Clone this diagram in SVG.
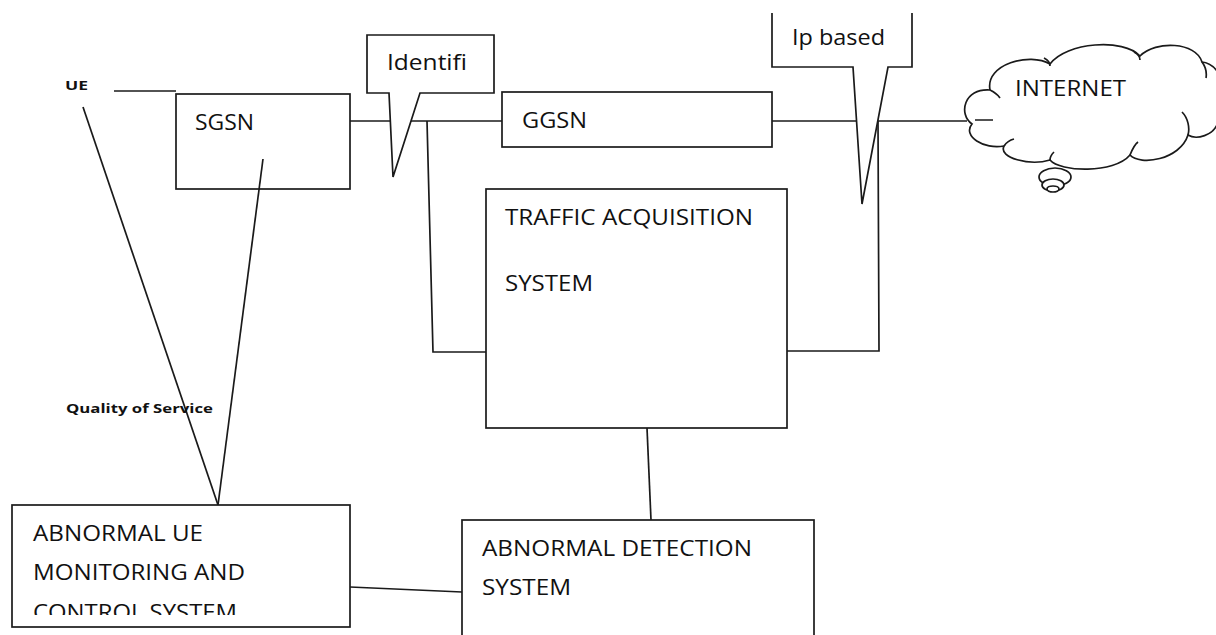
<svg xmlns="http://www.w3.org/2000/svg" width="1216" height="635" viewBox="0 0 1216 635">
<style>
.box{fill:#fff;stroke:#1a1a1a;stroke-width:1.7}
.ln{fill:none;stroke:#1a1a1a;stroke-width:1.7}
.t{font-family:"Open Sans","Noto Sans","Liberation Sans",sans-serif;font-size:22px;fill:#111}
.b{font-family:"Open Sans","Noto Sans","Liberation Sans",sans-serif;font-size:13px;font-weight:bold;fill:#111}
</style>
<defs>
<clipPath id="clipAUE"><rect x="12" y="505" width="340" height="110"/></clipPath>
</defs>
<g id="ue"><text class="b" x="65" y="90" textLength="23" lengthAdjust="spacingAndGlyphs">UE</text></g>
<g id="sgsn">
<rect class="box" x="176" y="94" width="174" height="95"/>
<text class="t" x="195" y="130" textLength="59" lengthAdjust="spacingAndGlyphs">SGSN</text>
</g>
<g id="connectors">
<polyline class="ln" points="114,91 176,91"/>
<line class="ln" x1="350" y1="121" x2="502" y2="121"/>
<line class="ln" x1="772" y1="121" x2="967" y2="121"/>
<polyline class="ln" points="427,121 433,352 486,352"/>
<polyline class="ln" points="787,351 879,351 878,121"/>
<line class="ln" x1="83" y1="107" x2="218" y2="505"/>
<line class="ln" x1="263" y1="159" x2="218" y2="505"/>
<line class="ln" x1="350" y1="587" x2="462" y2="592"/>
<line class="ln" x1="647" y1="428" x2="651" y2="520"/>
</g>
<g id="identifi">
<path class="box" d="M367,93 L367,35 L494,35 L494,93 L420,93 L393,177 L389,93 Z"/>
<text class="t" x="387" y="70" textLength="80" lengthAdjust="spacingAndGlyphs">Identifi</text>
</g>
<g id="ggsn">
<rect class="box" x="502" y="92" width="270" height="55"/>
<text class="t" x="522" y="128" textLength="65" lengthAdjust="spacingAndGlyphs">GGSN</text>
</g>
<g id="ipbased">
<path class="box" d="M772,13 L772,67 L853,67 L862,204 L888,67 L912,67 L912,13"/>
<text class="t" x="792" y="45" textLength="93" lengthAdjust="spacingAndGlyphs">Ip based</text>
</g>
<g id="internet">
<path class="box" d="M990,90 C985,64 1030,52 1050,64 C1066,42 1124,38 1140,56 C1156,40 1196,42 1202,62 C1226,64 1232,110 1218,122 C1214,136 1196,140 1188,135 C1180,160 1140,166 1130,155 C1114,174 1060,172 1050,160 C1030,166 998,158 1004,146 C984,150 962,136 972,124 C958,114 964,88 990,90 Z"/>
<path class="ln" d="M975,120 L993,120 M990,90 C994,92 998,95 1000,98 M1044,58 C1048,60 1050,63 1050,66 M1134,52 C1138,54 1140,56 1140,60 M1202,62 C1205,66 1207,72 1206,78 M1188,135 C1190,128 1188,118 1182,112 M1130,155 C1132,150 1134,145 1138,142 M1050,160 C1050,157 1052,154 1054,152 M1004,146 C1006,143 1010,140 1014,139"/>
<ellipse class="box" cx="1055" cy="177" rx="16" ry="9"/>
<ellipse class="box" cx="1053" cy="185" rx="11" ry="6"/>
<ellipse class="box" cx="1053" cy="189" rx="6" ry="3"/>
<text class="t" x="1015" y="96" textLength="111" lengthAdjust="spacingAndGlyphs">INTERNET</text>
</g>
<g id="tas">
<rect class="box" x="486" y="189" width="301" height="239"/>
<text class="t" x="505" y="225" textLength="248" lengthAdjust="spacingAndGlyphs">TRAFFIC ACQUISITION</text>
<text class="t" x="505" y="291" textLength="88" lengthAdjust="spacingAndGlyphs">SYSTEM</text>
</g>
<g id="qos"><text class="b" x="66" y="413" textLength="147" lengthAdjust="spacingAndGlyphs">Quality of Service</text></g>
<g id="aue">
<rect class="box" x="12" y="505" width="338" height="122"/>
<g clip-path="url(#clipAUE)">
<text class="t" x="33" y="541" textLength="170" lengthAdjust="spacingAndGlyphs">ABNORMAL UE</text>
<text class="t" x="33" y="580" textLength="212" lengthAdjust="spacingAndGlyphs">MONITORING AND</text>
<text class="t" x="33" y="620" textLength="204" lengthAdjust="spacingAndGlyphs">CONTROL SYSTEM</text>
</g>
</g>
<g id="ads">
<rect class="box" x="462" y="520" width="352" height="130"/>
<text class="t" x="482" y="556" textLength="270" lengthAdjust="spacingAndGlyphs">ABNORMAL DETECTION</text>
<text class="t" x="482" y="595" textLength="89" lengthAdjust="spacingAndGlyphs">SYSTEM</text>
</g>
</svg>
